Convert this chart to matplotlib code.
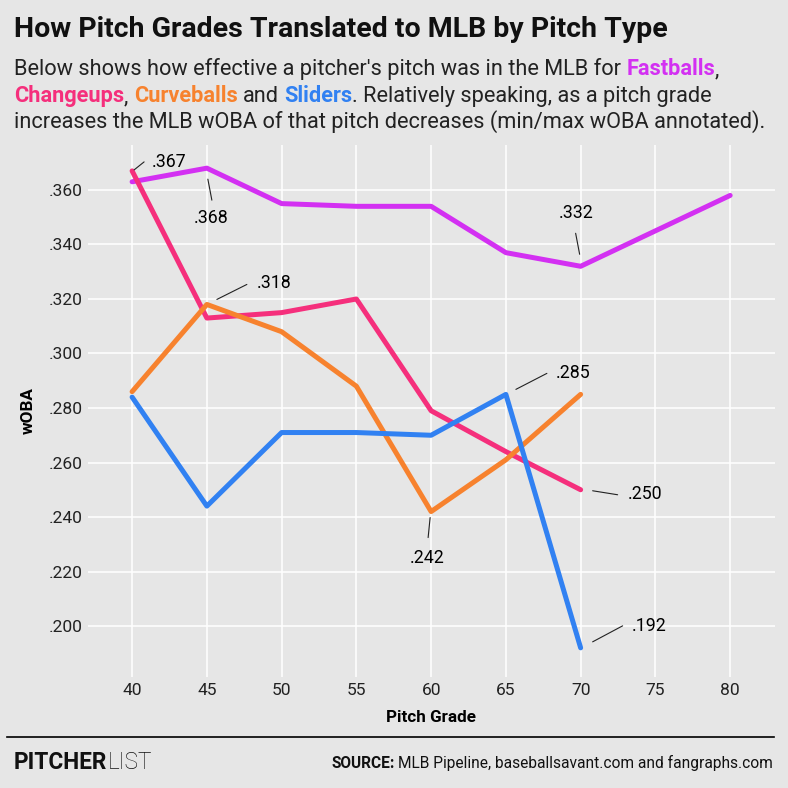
import matplotlib
matplotlib.use("Agg")
import matplotlib.pyplot as plt
from matplotlib.transforms import offset_copy

# -------------------------
# DATA
# -------------------------

grades = [40, 45, 50, 55, 60, 65, 70, 75, 80]
fastball = [0.363, 0.368, 0.355, 0.354, 0.354, 0.337, 0.332, 0.345, 0.358]
changeup = [0.367, 0.313, 0.315, 0.320, 0.279, 0.264, 0.250]
curveball = [0.286, 0.318, 0.308, 0.288, 0.242, 0.261, 0.285]
slider = [0.284, 0.244, 0.271, 0.271, 0.270, 0.285, 0.192]

y_ticks = [0.200, 0.220, 0.240, 0.260, 0.280, 0.300, 0.320, 0.340, 0.360]

# annotated points: (grade, value)
notes = [
    (40, 0.367), (45, 0.368), (45, 0.318), (70, 0.332),
    (65, 0.285), (70, 0.250), (60, 0.242), (70, 0.192),
]

# -------------------------
# STYLE
# -------------------------

BG = "#e6e6e6"
C_FB = "#d330f2"
C_CH = "#f52f7c"
C_CU = "#f7822e"
C_SL = "#3181f2"
FONT = "Roboto"

plt.rcParams["font.family"] = [FONT, "DejaVu Sans"]

fig = plt.figure(figsize=(7.88, 7.88), dpi=100, facecolor=BG)
ax = fig.add_axes([88 / 788, 1 - 677 / 788, (775 - 88) / 788, (677 - 145) / 788])
ax.set_facecolor(BG)

for s in ax.spines.values():
    s.set_visible(False)

ax.grid(True, color="white", lw=1.1)
ax.set_axisbelow(True)
ax.tick_params(length=0, labelsize=12.5, colors="#222222", pad=4)

ax.set_xlim(37.05, 83.0)
ax.set_ylim(0.1813, 0.3765)
ax.set_xticks(grades)
ax.set_yticks(y_ticks)
ax.set_yticklabels(["." + f"{v:.3f}".split(".")[1] for v in y_ticks])

lw = 3.6
ax.plot(grades, fastball, color=C_FB, lw=lw, solid_capstyle="round")
ax.plot(grades[:7], changeup, color=C_CH, lw=lw, solid_capstyle="round")
ax.plot(grades[:7], curveball, color=C_CU, lw=lw, solid_capstyle="round")
ax.plot(grades[:7], slider, color=C_SL, lw=lw, solid_capstyle="round")

ax.set_xlabel("Pitch Grade", fontsize=12.3, fontweight="bold", labelpad=9)
ax.set_ylabel("wOBA", fontsize=12.3, fontweight="bold", labelpad=9)

# leader lines and labels, offsets in pixels (image y grows downward)
offsets = [
    ((2, -1), (12, -9), (20, -9), "left"),
    ((1, 11), (5, 32), (4, 50), "center"),
    ((10, -5), (40, -20), (50, -21), "left"),
    ((-1, -12), (-5, -33), (-5, -53), "center"),
    ((10, -5), (41, -21), (50, -21), "left"),
    ((12, 1), (37, 5), (47, 4), "left"),
    ((-1, 6), (-3, 26), (-4, 46), "center"),
    ((12, -6), (42, -22), (51, -22), "left"),
]
for (gx, val), (p0, p1, pt, ha) in zip(notes, offsets):
    t0 = offset_copy(ax.transData, fig=fig, x=p0[0], y=-p0[1], units="dots")
    t1 = offset_copy(ax.transData, fig=fig, x=p1[0], y=-p1[1], units="dots")
    ax.annotate("", xy=(gx, val), xycoords=t1, xytext=(gx, val), textcoords=t0,
                arrowprops=dict(arrowstyle="-", lw=0.8, color="#222222",
                                shrinkA=0, shrinkB=0))
    lbl = "." + f"{val:.3f}".split(".")[1]
    ax.annotate(lbl, xy=(gx, val), xytext=(pt[0], -pt[1]), textcoords="offset pixels",
                ha=ha, va="center", fontsize=12.8, color="black")

# -------------------------
# TITLE / SUBTITLE
# -------------------------

fig.text(14 / 788, 1 - 37 / 788, "How Pitch Grades Translated to MLB by Pitch Type",
         fontsize=20.5, fontweight="bold", color="#111111", va="baseline")

renderer = fig.canvas.get_renderer()
SUB = 15.7


def space_w(size):
    a = fig.text(0, 0, "a a", fontsize=size)
    b = fig.text(0, 0, "aa", fontsize=size)
    w = a.get_window_extent(renderer).width - b.get_window_extent(renderer).width
    a.remove()
    b.remove()
    return w


SP = space_w(SUB)


def rich_line(parts, x_px, base_px):
    x = x_px
    for txt, color, bold, gap in parts:
        x += SP if gap else 0
        t = fig.text(x / 788, 1 - base_px / 788, txt, fontsize=SUB, color=color,
                     fontweight="bold" if bold else "normal", va="baseline")
        x += t.get_window_extent(renderer).width


dark = "#222222"
rich_line([("Below shows how effective a pitcher's pitch was in the MLB for", dark, False, False),
           ("Fastballs", C_FB, True, True), (",", dark, False, False)], 14, 75)
rich_line([("Changeups", C_CH, True, False), (",", dark, False, False),
           ("Curveballs", C_CU, True, True), ("and", dark, False, True),
           ("Sliders", C_SL, True, True),
           (". Relatively speaking, as a pitch grade", dark, False, False)], 14, 102)
rich_line([("increases the MLB wOBA of that pitch decreases (min/max wOBA annotated).",
            dark, False, False)], 14, 128)

# -------------------------
# FOOTER
# -------------------------

fig.add_artist(plt.Line2D([7 / 788, 774 / 788], [1 - 737 / 788] * 2,
                          color="black", lw=1.2))
t = fig.text(14 / 788, 1 - 769 / 788, "PITCHER", fontsize=16.3, fontweight="bold",
             color="#111111", va="baseline")
w = t.get_window_extent(renderer).width
fig.text((14 + w) / 788, 1 - 769 / 788, "LIST", fontsize=16.3, fontweight="light",
         color="#111111", va="baseline")

t = fig.text(773 / 788, 1 - 768 / 788, "MLB Pipeline, baseballsavant.com and fangraphs.com",
             fontsize=11.2, color="#111111", va="baseline", ha="right")
w = t.get_window_extent(renderer).width
fig.text((773 - w - space_w(11.2) * 0.8) / 788, 1 - 768 / 788, "SOURCE:", fontsize=11.2,
         fontweight="bold", color="#111111", va="baseline", ha="right")

fig.savefig("out.png", dpi=100, facecolor=BG)
